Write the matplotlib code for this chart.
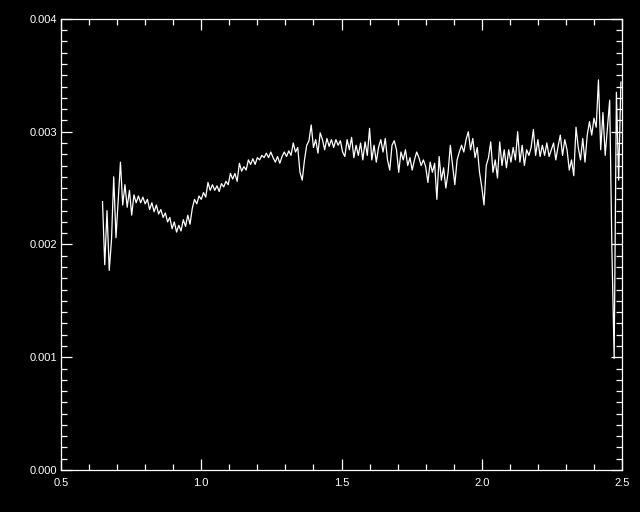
import numpy as np
import matplotlib
matplotlib.use('Agg')
from matplotlib import pyplot as plt
from matplotlib.ticker import MultipleLocator, FormatStrFormatter

# wavelength grid (one row = 10 samples)
wave = [
    0.648, 0.656, 0.664, 0.672, 0.680, 0.688, 0.696, 0.704, 0.712, 0.720,
    0.728, 0.736, 0.744, 0.752, 0.760, 0.768, 0.776, 0.784, 0.792, 0.800,
    0.808, 0.816, 0.824, 0.832, 0.840, 0.848, 0.856, 0.864, 0.872, 0.880,
    0.888, 0.896, 0.904, 0.912, 0.920, 0.928, 0.936, 0.944, 0.952, 0.960,
    0.968, 0.976, 0.984, 0.992, 1.000, 1.008, 1.016, 1.024, 1.032, 1.040,
    1.048, 1.056, 1.064, 1.072, 1.080, 1.088, 1.096, 1.104, 1.112, 1.120,
    1.128, 1.136, 1.144, 1.152, 1.160, 1.168, 1.176, 1.184, 1.192, 1.200,
    1.208, 1.216, 1.224, 1.232, 1.240, 1.248, 1.256, 1.264, 1.272, 1.280,
    1.288, 1.296, 1.304, 1.312, 1.320, 1.328, 1.336, 1.344, 1.352, 1.360,
    1.368, 1.376, 1.384, 1.392, 1.400, 1.408, 1.416, 1.424, 1.432, 1.440,
    1.448, 1.456, 1.464, 1.472, 1.480, 1.488, 1.496, 1.504, 1.512, 1.520,
    1.528, 1.536, 1.544, 1.552, 1.560, 1.568, 1.576, 1.584, 1.592, 1.600,
    1.608, 1.616, 1.624, 1.632, 1.640, 1.648, 1.656, 1.664, 1.672, 1.680,
    1.688, 1.696, 1.704, 1.712, 1.720, 1.728, 1.736, 1.744, 1.752, 1.760,
    1.768, 1.776, 1.784, 1.792, 1.800, 1.808, 1.816, 1.824, 1.832, 1.840,
    1.848, 1.856, 1.864, 1.872, 1.880, 1.888, 1.896, 1.904, 1.912, 1.920,
    1.928, 1.936, 1.944, 1.952, 1.960, 1.968, 1.976, 1.984, 1.992, 2.000,
    2.008, 2.016, 2.024, 2.032, 2.040, 2.048, 2.056, 2.064, 2.072, 2.080,
    2.088, 2.096, 2.104, 2.112, 2.120, 2.128, 2.136, 2.144, 2.152, 2.160,
    2.168, 2.176, 2.184, 2.192, 2.200, 2.208, 2.216, 2.224, 2.232, 2.240,
    2.248, 2.256, 2.264, 2.272, 2.280, 2.288, 2.296, 2.304, 2.312, 2.320,
    2.328, 2.336, 2.344, 2.352, 2.360, 2.368, 2.376, 2.384, 2.392, 2.400,
    2.408, 2.416, 2.424, 2.432, 2.440, 2.448, 2.456, 2.464, 2.472, 2.480,
    2.488, 2.496,
]

# flux in units of 1e-3
flux_e3 = [
    2.38, 1.82, 2.30, 1.77, 2.04, 2.60, 2.06, 2.40, 2.73, 2.35,
    2.53, 2.33, 2.48, 2.26, 2.44, 2.37, 2.43, 2.37, 2.42, 2.36,
    2.40, 2.31, 2.37, 2.29, 2.35, 2.27, 2.31, 2.24, 2.28, 2.20,
    2.24, 2.14, 2.20, 2.11, 2.17, 2.12, 2.22, 2.16, 2.26, 2.18,
    2.32, 2.40, 2.36, 2.43, 2.40, 2.46, 2.42, 2.55, 2.48, 2.53,
    2.48, 2.52, 2.47, 2.54, 2.51, 2.56, 2.53, 2.63, 2.58, 2.63,
    2.56, 2.72, 2.65, 2.69, 2.66, 2.75, 2.71, 2.76, 2.71, 2.77,
    2.75, 2.79, 2.77, 2.81, 2.77, 2.82, 2.77, 2.73, 2.78, 2.72,
    2.78, 2.82, 2.78, 2.83, 2.79, 2.90, 2.82, 2.86, 2.64, 2.57,
    2.75, 2.88, 2.92, 3.06, 2.86, 2.93, 2.81, 2.99, 2.93, 2.84,
    2.94, 2.87, 2.93, 2.86, 2.93, 2.88, 2.92, 2.82, 2.78, 2.93,
    2.84, 2.95, 2.77, 2.88, 2.79, 2.90, 2.75, 2.91, 2.79, 3.03,
    2.75, 2.88, 2.73, 2.86, 2.93, 2.82, 2.94, 2.75, 2.66, 2.88,
    2.92, 2.84, 2.64, 2.82, 2.75, 2.84, 2.70, 2.77, 2.66, 2.75,
    2.82, 2.77, 2.70, 2.75, 2.69, 2.55, 2.73, 2.64, 2.72, 2.40,
    2.78, 2.57, 2.68, 2.50, 2.64, 2.88, 2.70, 2.53, 2.75, 2.82,
    2.88, 2.82, 2.93, 3.00, 2.84, 2.94, 2.77, 2.86, 2.64, 2.51,
    2.35, 2.70, 2.77, 2.91, 2.64, 2.75, 2.59, 2.91, 2.70, 2.84,
    2.68, 2.84, 2.73, 2.86, 2.75, 3.00, 2.73, 2.88, 2.70, 2.84,
    2.79, 2.86, 3.02, 2.79, 2.93, 2.78, 2.88, 2.79, 2.90, 2.78,
    2.84, 2.90, 2.75, 2.87, 2.97, 2.79, 2.93, 2.84, 2.66, 2.75,
    2.61, 3.04, 2.86, 2.75, 2.94, 2.73, 2.97, 3.09, 2.97, 3.12,
    3.04, 3.46, 2.84, 3.17, 2.79, 3.04, 3.28, 1.95, 0.99, 3.35,
    2.57, 3.44,
]

flux = np.array(flux_e3) / 1000.0

plt.rcParams['font.family'] = ['Liberation Sans', 'DejaVu Sans']

fig = plt.figure(figsize=(6.4, 5.12), dpi=100, facecolor='black')
ax = fig.add_axes([0.0953, 0.082, 0.8766, 0.881], facecolor='black')

ax.plot(wave, flux, color='white', linewidth=0.9)

ax.set_xlim(0.5, 2.5)
ax.set_ylim(0.0, 0.004)
ax.xaxis.set_major_locator(MultipleLocator(0.5))
ax.xaxis.set_minor_locator(MultipleLocator(0.1))
ax.yaxis.set_major_locator(MultipleLocator(0.001))
ax.yaxis.set_minor_locator(MultipleLocator(0.0001))
ax.xaxis.set_major_formatter(FormatStrFormatter('%.1f'))
ax.yaxis.set_major_formatter(FormatStrFormatter('%.3f'))

for sp in ax.spines.values():
    sp.set_color('white')
    sp.set_linewidth(0.9)

ax.tick_params(which='both', direction='in', top=True, right=True,
               colors='white', width=0.9, labelsize=8)
ax.tick_params(which='major', length=8)
ax.tick_params(which='minor', length=4.3)
ax.tick_params(axis='x', pad=6)
ax.tick_params(axis='y', pad=3)

fig.savefig('out.png', dpi=100, facecolor='black')
